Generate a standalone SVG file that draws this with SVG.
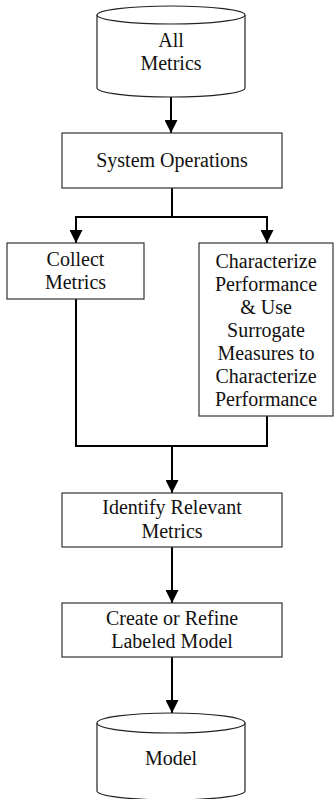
<svg xmlns="http://www.w3.org/2000/svg" width="334" height="799" viewBox="0 0 334 799">
<defs>
<style>
.box{fill:#fff;stroke:#333;stroke-width:1.2}
.cyl{fill:#fff;stroke:#222;stroke-width:1.2}
.t{font-family:'Liberation Serif','Times New Roman','DejaVu Serif',serif;font-size:20px;fill:#111;text-anchor:middle}
.c{fill:none;stroke:#000;stroke-width:2}
</style>
<marker id="ah" markerWidth="13" markerHeight="13" refX="13" refY="6.5" orient="auto" markerUnits="userSpaceOnUse">
<path d="M0,0 L13,6.5 L0,13 Z" fill="#000"/>
</marker>
</defs>
<rect width="334" height="799" fill="#fff"/>
<g id="connectors">
<path class="c" d="M171,97 L171,133" marker-end="url(#ah)"/>
<path class="c" d="M172,188 L172,217"/>
<path class="c" d="M76,217 L267,217"/>
<path class="c" d="M76,216 L76,243" marker-end="url(#ah)"/>
<path class="c" d="M267,216 L267,243" marker-end="url(#ah)"/>
<path class="c" d="M76,299 L76,446 L267,446 L267,416"/>
<path class="c" d="M172,446 L172,493" marker-end="url(#ah)"/>
<path class="c" d="M172,547 L172,603" marker-end="url(#ah)"/>
<path class="c" d="M172,657 L172,713" marker-end="url(#ah)"/>
</g>
<g id="all-metrics">
<path class="cyl" d="M97,15 L97,88 A74,9 0 0 0 245,88 L245,15"/>
<ellipse class="cyl" cx="171" cy="15" rx="74" ry="9"/>
<text class="t" x="171" y="47" font-family="Liberation Serif, serif">All</text>
<text class="t" x="171" y="70" font-family="Liberation Serif, serif">Metrics</text>
</g>
<g id="system-operations">
<rect class="box" x="62" y="133" width="220" height="55"/>
<text class="t" x="172" y="167">System Operations</text>
</g>
<g id="collect-metrics">
<rect class="box" x="7" y="243" width="137" height="56"/>
<text class="t" x="75.5" y="266">Collect</text>
<text class="t" x="75.5" y="289">Metrics</text>
</g>
<g id="characterize">
<rect class="box" x="199" y="243" width="134" height="173"/>
<text class="t" x="266" y="268">Characterize</text>
<text class="t" x="266" y="291">Performance</text>
<text class="t" x="266" y="314">&amp; Use</text>
<text class="t" x="266" y="337">Surrogate</text>
<text class="t" x="266" y="360">Measures to</text>
<text class="t" x="266" y="383">Characterize</text>
<text class="t" x="266" y="406">Performance</text>
</g>
<g id="identify">
<rect class="box" x="62" y="493" width="220" height="54"/>
<text class="t" x="172" y="514">Identify Relevant</text>
<text class="t" x="172" y="538">Metrics</text>
</g>
<g id="create-model">
<rect class="box" x="62" y="603" width="220" height="54"/>
<text class="t" x="172" y="625">Create or Refine</text>
<text class="t" x="172" y="648">Labeled Model</text>
</g>
<g id="model">
<path class="cyl" d="M97,723 L97,791 A74,9 0 0 0 245,791 L245,723"/>
<ellipse class="cyl" cx="171" cy="723" rx="74" ry="10"/>
<text class="t" x="171" y="765">Model</text>
</g>
</svg>
